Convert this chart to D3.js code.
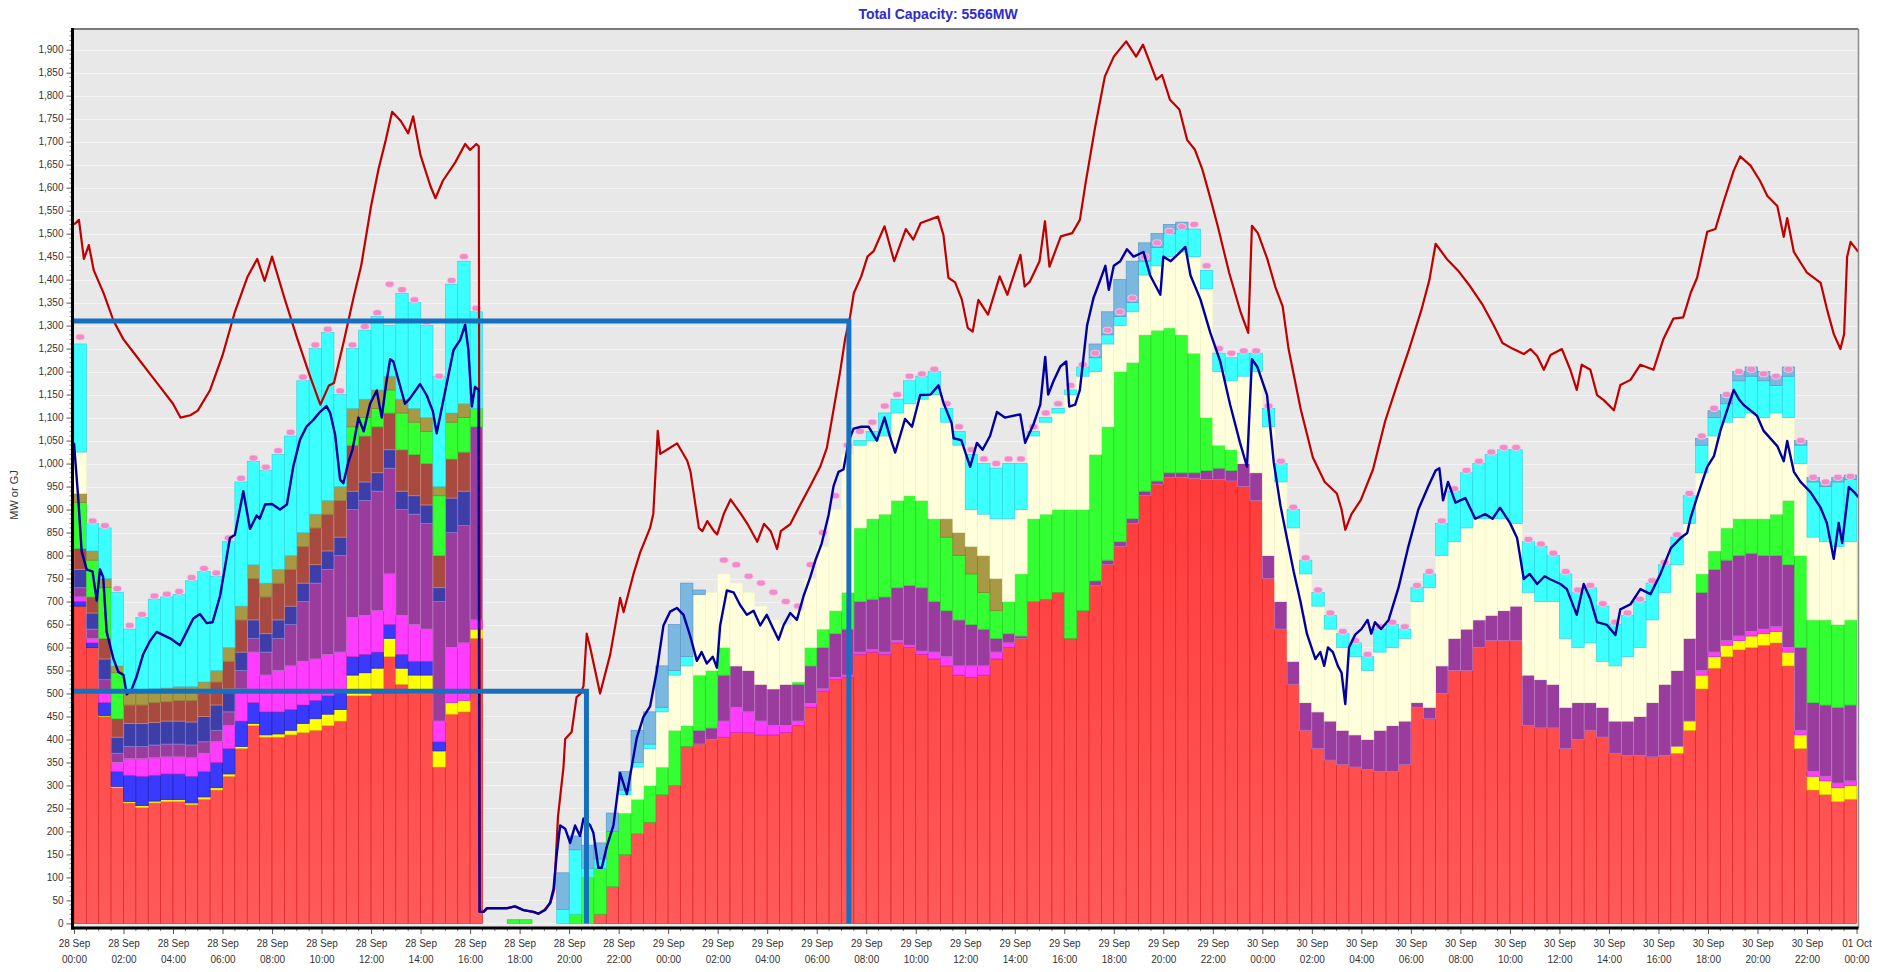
<!DOCTYPE html>
<html>
<head>
<meta charset="utf-8">
<script src="https://cdnjs.cloudflare.com/ajax/libs/d3/7.8.5/d3.min.js"></script>
<style>
  body { margin: 0; background: #fff; }
  text { font-family: Arial, "Liberation Sans", sans-serif; }
</style>
</head>
<body>
<svg id="chart" width="1888" height="972"></svg>
<script>
// half-hour bins from 28 Sep 00:00 to 01 Oct 00:00 (144 bins)
const binHours = 0.5;

const red = [690,600,450,295,262,252,262,265,265,258,270,290,320,380,430,405,405,410,415,420,430,440,495,495,510,580,520,500,500,340,455,460,620,
  0,0,0,0,0,0,0,0,0,
  20,80,150,195,220,280,300,385,390,400,405,415,415,410,410,415,
  430,470,505,530,535,585,590,585,610,600,585,575,560,540,535,540,575,600,620,700,705,720,620,680,735,780,820,870,930,955,970,970,968,965,965,962,950,920,750,640,520,420,380,355,345,340,335,330,330,345,470,445,500,550,550,600,615,615,615,430,425,425,380,400,420,405,370,365,365,362,365,370,420,510,555,580,595,600,605,610,560,380,290,280,265,270];

const yellow = [0,0,2,3,3,4,4,4,4,4,5,5,5,5,5,5,7,10,20,25,25,25,45,50,45,40,35,40,40,35,25,25,20,
  0,0,0,0,0,0,0,0,0,0,0,0,0,0,0,0,0,0,0,0,0,0,0,0,0,0,0,0,0,0,0,0,0,0,0,0,0,0,0,0,0,0,0,0,0,0,0,0,
  0,0,0,0,0,0,0,0,0,0,0,0,0,0,0,0,0,0,0,0,0,0,0,0,0,0,0,0,0,0,0,0,0,0,0,0,0,0,0,0,0,0,0,0,0,0,0,0,
  15,20,30,25,25,20,25,25,25,30,30,30,30,30,30];

const blue = [10,10,28,32,57,64,56,56,56,58,55,55,55,55,45,50,48,45,40,40,40,40,40,40,35,30,30,30,30,20,0,0,0,
  0,0,0,0,0,0,0,0,0,0,0,0,0,0,0,0,0,0,0,0,0,0,0,0,0,0,0,0,0,0,0,0,0,0,0,0,0,0,0,0,0,0,0,0,0,0,0,
  0,0,0,0,0,0,0,0,0,0,0,0,0,0,0,0,0,0,0,0,0,0,0,0,0,0,0,0,0,0,0,0,0,0,0,0,0,0,0,0,0,0,0,0,0,0,
  0,0,0,0,0,0,0,0,0,0,0,0,0,0,0,0,0,0,0];

const magenta = [10,10,20,20,36,38,38,37,37,40,40,45,50,70,110,80,90,95,95,90,90,85,85,85,90,110,85,80,70,45,120,125,20,
  0,0,0,0,0,0,0,0,0,0,0,0,0,0,0,0,0,0,0,
  35,55,45,30,20,15,10,8,5,5,5,5,5,5,5,5,7,15,20,20,25,20,15,10,
  0,0,0,0,0,0,0,0,0,0,0,0,0,0,0,0,0,0,0,0,0,0,0,0,0,0,0,0,0,0,0,0,0,0,0,0,0,0,0,0,0,0,0,0,0,0,0,0,0,0,0,0,0,0,0,
  10,10,10,10,10,10,10,10,10,10,10,10,10];

const purple = [20,20,30,20,27,27,28,28,28,28,25,25,30,40,30,50,70,90,130,165,185,210,235,250,260,230,230,240,230,260,250,255,420,
  0,0,0,0,0,0,0,0,0,0,0,0,0,0,0,0,0,
  30,25,100,90,90,80,80,90,80,82,90,95,100,110,110,120,115,130,138,110,100,100,90,80,30,20,5,0,0,0,0,0,10,10,10,10,10,7,10,10,12,20,25,23,50,60,50,60,50,60,80,85,75,70,65,90,100,95,10,25,60,70,90,60,55,65,75,110,105,95,90,80,60,65,70,75,85,118,155,165,180,170,180,175,175,170,160,155,180,180,150,155,165,165];

const navy = [40,35,45,35,50,50,49,50,50,50,55,55,50,40,40,40,40,40,40,40,40,40,40,40,40,40,40,40,40,30,75,75,0,
  0,0,0,0,0,0,0,0,0,0,0,0,0,0,0,0,0,0,0,0,0,0,0,0,0,0,0,0,0,0,0,0,0,0,0,0,0,0,0,0,0,0,0,0,0,0,0,
  0,0,0,0,0,0,0,0,0,0,0,0,0,0,0,0,0,0,0,0,0,0,0,0,0,0,0,0,0,0,0,0,0,0,0,0,0,0,0,0,0,0,0,0,0,0,
  0,0,0,0,0,0,0,0,0,0,0,0,0,0,0,0,0,0,0];

const brown = [45,35,45,40,40,40,43,42,45,47,50,50,60,70,90,80,80,80,80,80,80,80,100,100,100,80,90,90,90,70,85,85,0,
  0,0,0,0,0,0,0,0,0,0,0,0,0,0,0,0,0,0,0,0,0,0,0,0,0,0,0,0,0,0,0,0,0,0,0,0,0,0,0,0,0,0,0,0,0,0,0,
  0,0,0,0,0,0,0,0,0,0,0,0,0,0,0,0,0,0,0,0,0,0,0,0,0,0,0,0,0,0,0,0,0,0,0,0,0,0,0,0,0,0,0,0,0,0,
  0,0,0,0,0,0,0,0,0,0,0,0,0,0,0,0,0,0,0];

const green = [100,80,110,100,0,0,0,0,0,0,0,0,0,0,0,0,0,0,0,0,0,0,40,40,40,50,80,70,70,130,80,75,40,
  0,0,8,8,0,0,0,20,100,100,120,90,75,80,60,120,45,120,125,60,0,0,0,0,0,5,40,40,50,80,160,175,180,190,195,190,180,160,140,110,80,60,70,135,180,185,180,280,220,275,290,370,340,340,328,315,300,260,115,50,45,
  0,0,0,0,0,0,0,0,0,0,0,0,0,0,0,0,0,0,0,0,0,0,0,0,0,0,0,0,0,0,0,0,0,0,0,0,0,
  40,40,70,80,75,80,90,140,200,180,185,180,185];

const olive = [20,20,20,15,25,30,30,30,30,30,25,25,30,30,30,30,30,30,30,30,30,30,40,40,40,30,30,30,30,20,20,30,0,
  0,0,0,0,0,0,0,0,0,0,0,0,0,0,0,0,0,0,0,0,0,0,0,0,0,0,0,0,0,0,0,0,0,0,0,0,0,
  40,50,60,80,70,
  0,0,0,0,0,0,0,0,0,0,0,0,0,0,0,0,0,0,0,0,0,0,0,0,0,0,0,0,0,0,0,0,0,0,0,
  0,0,0,0,0,0,0,0,0,0,0,0,0,0,0,0,0,0,0,0,0,0,0,0,0,0,0,0,0,0,0,0,0,0];

const cream = [90,
  0,0,0,0,0,0,0,0,0,0,0,0,0,0,0,0,0,0,0,0,0,0,0,0,0,0,0,0,0,0,0,0,0,0,0,0,0,0,0,0,0,0,0,
  40,70,80,120,120,130,175,170,160,180,170,170,150,130,155,150,180,220,300,180,170,170,190,200,220,270,210,190,80,90,130,180,140,180,200,210,250,290,180,180,100,110,130,140,155,180,210,280,160,150,190,220,280,260,290,280,230,200,180,170,150,170,170,180,220,260,240,210,220,220,210,200,180,180,170,180,150,120,130,100,120,140,150,180,200,230,250,220,250,230,220,230,220,220,180,200,180,170,170,170];

const cyan = [235,60,110,160,140,160,195,198,200,230,240,205,230,270,225,245,250,260,330,360,365,200,130,150,160,110,230,230,200,240,280,310,210,
  0,0,0,0,0,0,30,140,20,20,0,10,10,10,10,10,20,
  0,0,0,0,0,0,0,0,0,0,0,0,0,
  10,20,50,30,50,50,50,30,30,120,110,110,120,100,10,10,10,10,20,30,20,20,20,30,40,50,50,60,40,40,50,50,40,40,40,40,30,30,30,30,30,30,50,50,20,30,30,70,110,120,120,140,150,160,110,120,100,140,120,120,120,90,90,100,80,60,60,60,60,40,40,80,80,80,60,90,40,120,120,140,135];

const steel = [0,0,0,0,0,0,0,0,0,0,0,0,0,0,0,0,0,0,0,0,0,0,0,0,0,0,0,0,0,0,0,0,0,0,0,0,0,0,0,
  80,30,50,35,40,40,70,70,90,100,160,10,
  0,0,0,0,0,0,0,0,0,0,0,0,0,0,0,0,0,0,0,0,0,0,0,0,0,0,0,0,0,0,0,
  30,50,80,90,40,30,20,15,
  0,0,0,0,0,0,0,0,0,0,0,0,0,0,0,0,0,0,0,0,0,0,0,0,0,0,0,0,0,0,0,0,0,0,0,0,0,0,0,0,0,
  15,15,20,20,20,20,20,20,10,10,10,10,10];

// pink markers sitting on top of the stack
const pinkMarks = [1275,875,865,728,648,672,712,716,722,752,772,762,838,968,1012,992,1028,1068,1188,1258,1292,1158,1258,1298,1328,1390,1378,1356,1308,1190,1398,1450,1338,
  null,null,null,null,null,null,null,null,null,null,null,null,null,null,null,null,null,null,null,
  790,780,755,740,720,700,690,780,850,930,1040,1070,1090,1125,1150,1190,1195,1205,1130,1080,1030,1010,1000,1010,1010,1080,1110,1130,1170,1215,1240,1290,1330,1360,1450,1480,1505,1515,1520,1430,1250,1240,1245,1245,1125,1005,905,795,725,675,635,615,585,645,655,645,735,765,875,945,985,1005,1025,1035,1035,835,825,805,765,725,735,695,655,675,705,745,785,845,935,1060,1120,1150,1200,1205,1195,1190,1205,1050,970,960,970,972];

// [hours from 28 Sep 00:00, value]
const redLine = [[0,1520],[0.2,1530],[0.4,1445],[0.6,1475],[0.8,1420],[1.2,1370],[1.6,1310],[2.0,1270],[2.5,1235],[3.0,1200],[3.5,1165],[4.0,1130],[4.3,1100],[4.7,1105],[5.0,1115],[5.5,1160],[6.0,1235],[6.5,1330],[7.0,1405],[7.4,1445],[7.7,1397],[8.0,1450],[8.5,1360],[9.0,1275],[9.5,1195],[9.95,1128],[10.3,1170],[10.5,1175],[10.9,1266],[11.3,1363],[11.6,1430],[12.0,1560],[12.3,1640],[12.6,1705],[12.85,1765],[13.2,1745],[13.5,1718],[13.7,1755],[14.0,1670],[14.4,1603],[14.6,1577],[14.9,1615],[15.4,1655],[15.8,1695],[16.0,1682],[16.25,1695],[16.35,1690],[16.4,25],[16.55,25],[16.7,33],[17.5,33],[17.8,37],[18.15,29],[18.55,25],[18.75,21],[19.0,29],[19.25,45],[19.4,75],[19.55,232],[19.77,339],[19.84,401],[20.1,416],[20.3,492],[20.45,499],[20.58,516],[20.71,630],[20.85,600],[21.25,500],[21.66,585],[22.06,708],[22.2,677],[22.6,760],[22.87,807],[23.27,860],[23.4,891],[23.58,1071],[23.68,1021],[23.95,1030],[24.36,1044],[24.77,1006],[24.9,983],[25.24,860],[25.38,853],[25.58,875],[25.85,853],[25.98,846],[26.25,891],[26.52,922],[26.93,891],[27.2,869],[27.6,830],[27.87,869],[28.14,853],[28.4,814],[28.55,853],[28.93,868],[29.33,910],[29.74,951],[30.14,993],[30.41,1034],[30.68,1117],[30.95,1201],[31.15,1272],[31.35,1320],[31.5,1371],[31.8,1407],[32.05,1450],[32.3,1462],[32.74,1516],[33.13,1440],[33.6,1510],[33.9,1487],[34.2,1523],[34.9,1537],[35.12,1497],[35.32,1404],[35.59,1394],[35.86,1357],[36.1,1295],[36.3,1287],[36.53,1356],[36.92,1324],[37.39,1407],[37.7,1367],[38.23,1454],[38.4,1385],[38.6,1395],[39.0,1440],[39.22,1527],[39.4,1428],[39.86,1494],[40.32,1501],[40.63,1530],[40.86,1610],[41.25,1733],[41.64,1842],[42.0,1885],[42.5,1918],[42.9,1885],[43.18,1911],[43.72,1835],[43.95,1845],[44.27,1791],[44.65,1770],[44.96,1704],[45.27,1683],[45.58,1639],[45.88,1581],[46.2,1516],[46.66,1415],[47.13,1328],[47.43,1284],[47.58,1517],[47.82,1501],[48.2,1445],[48.52,1385],[48.82,1342],[49.06,1249],[49.55,1118],[50.04,1013],[50.52,960],[51.01,935],[51.2,900],[51.35,856],[51.6,890],[51.98,921],[52.47,987],[52.96,1092],[53.44,1171],[53.93,1249],[54.42,1333],[54.75,1400],[55.0,1478],[55.45,1445],[55.9,1420],[56.4,1385],[56.9,1345],[57.35,1300],[57.7,1262],[58.1,1250],[58.56,1238],[58.83,1249],[59.1,1234],[59.37,1204],[59.64,1236],[60.1,1249],[60.44,1204],[60.7,1160],[60.9,1215],[61.25,1204],[61.52,1149],[61.79,1138],[62.2,1116],[62.46,1171],[62.87,1182],[63.27,1215],[63.8,1204],[64.2,1271],[64.6,1315],[65.0,1318],[65.3,1371],[65.56,1404],[65.97,1504],[66.3,1510],[66.64,1571],[67.04,1637],[67.3,1668],[67.72,1648],[68.1,1615],[68.4,1582],[68.8,1560],[69.06,1493],[69.2,1534],[69.47,1460],[70.0,1415],[70.55,1393],[70.8,1337],[71.08,1282],[71.35,1249],[71.5,1282],[71.62,1449],[71.76,1482],[72.08,1460]];

const navyLine = [[0.0,1045],[0.17,926],[0.31,809],[0.51,770],[0.75,765],[0.92,702],[1.05,770],[1.18,753],[1.32,634],[1.59,576],[1.79,547],[2.0,540],[2.13,498],[2.33,509],[2.53,537],[2.8,586],[3.07,614],[3.34,634],[3.88,620],[4.28,605],[4.55,634],[4.82,663],[5.09,673],[5.36,653],[5.6,655],[5.9,712],[6.3,838],[6.5,845],[6.84,940],[7.11,858],[7.38,887],[7.5,880],[7.72,911],[8.0,912],[8.32,900],[8.6,911],[8.86,994],[9.13,1052],[9.4,1081],[9.67,1095],[9.9,1110],[10.2,1125],[10.35,1110],[10.55,1062],[10.75,965],[10.88,957],[11.08,1003],[11.25,1030],[11.49,1100],[11.7,1070],[11.96,1130],[12.23,1159],[12.43,1100],[12.6,1170],[12.77,1227],[12.9,1222],[13.17,1169],[13.37,1130],[13.55,1140],[13.98,1173],[14.25,1148],[14.5,1113],[14.65,1066],[15.06,1175],[15.33,1247],[15.6,1269],[15.8,1302],[15.93,1247],[16.07,1124],[16.2,1167],[16.34,1160],[16.38,25],[16.54,25],[16.67,33],[17.48,33],[17.82,37],[18.15,29],[18.56,25],[18.76,21],[19.03,29],[19.23,45],[19.37,75],[19.5,151],[19.64,213],[19.84,206],[20.04,175],[20.24,213],[20.44,190],[20.58,228],[20.85,213],[20.98,197],[21.18,121],[21.32,121],[21.52,167],[21.79,213],[22.06,327],[22.33,281],[22.46,320],[22.73,403],[23.0,449],[23.27,472],[23.54,549],[23.81,648],[24.08,678],[24.35,686],[24.62,671],[24.89,625],[25.16,571],[25.35,590],[25.56,565],[25.8,580],[25.97,556],[26.1,648],[26.37,724],[26.64,720],[26.9,693],[27.18,671],[27.45,680],[27.72,648],[27.98,671],[28.25,640],[28.46,617],[28.66,648],[28.93,675],[29.2,660],[29.47,712],[29.74,753],[29.95,790],[30.2,826],[30.48,888],[30.68,951],[30.88,982],[31.08,987],[31.3,1050],[31.49,1076],[31.8,1080],[32.1,1080],[32.43,1050],[32.74,1100],[32.95,1060],[33.17,1024],[33.57,1097],[33.85,1080],[34.18,1149],[34.6,1150],[34.92,1170],[35.12,1132],[35.45,1088],[35.53,1055],[35.84,1051],[36.2,993],[36.47,1045],[36.7,1030],[37.0,1060],[37.28,1112],[37.6,1100],[38.22,1107],[38.42,1045],[38.76,1086],[39.03,1128],[39.23,1232],[39.35,1150],[39.57,1180],[39.84,1211],[40.08,1222],[40.2,1124],[40.44,1128],[40.63,1160],[40.92,1300],[41.18,1360],[41.45,1399],[41.66,1430],[41.8,1378],[42.0,1430],[42.26,1440],[42.53,1466],[42.8,1450],[43.2,1460],[43.47,1409],[43.88,1367],[44.0,1450],[44.3,1440],[44.65,1458],[44.89,1471],[45.1,1409],[45.5,1357],[45.9,1284],[46.3,1222],[46.7,1128],[47.1,1045],[47.38,993],[47.58,1227],[47.8,1210],[48.19,1149],[48.46,1003],[48.73,909],[49.0,836],[49.27,764],[49.54,700],[49.8,630],[50.14,575],[50.34,590],[50.5,560],[50.65,600],[50.85,590],[51.05,560],[51.2,545],[51.35,477],[51.5,600],[51.75,628],[52.0,640],[52.25,660],[52.4,630],[52.55,655],[52.8,640],[53.1,660],[53.5,730],[53.9,820],[54.3,900],[54.7,950],[55.0,985],[55.15,990],[55.3,920],[55.5,960],[55.8,915],[56.2,925],[56.6,880],[57.0,890],[57.3,880],[57.6,904],[58.0,871],[58.29,838],[58.56,749],[58.8,760],[59.1,738],[59.4,755],[59.6,749],[60.04,738],[60.3,727],[60.7,671],[60.98,738],[61.25,705],[61.52,655],[61.92,649],[62.26,627],[62.46,683],[62.87,694],[63.27,727],[63.68,716],[64.08,760],[64.5,816],[64.89,838],[65.16,849],[65.3,882],[65.56,927],[65.97,993],[66.24,1016],[66.5,1071],[67.04,1160],[67.25,1140],[67.45,1127],[67.98,1104],[68.25,1071],[68.8,1038],[69.06,1005],[69.2,1049],[69.47,982],[69.74,960],[70.14,938],[70.55,904],[70.8,871],[71.08,793],[71.28,871],[71.42,827],[71.69,949],[71.9,938],[72.08,927]];

// hand-drawn marker lines: level (MW) and hour where they drop to zero
const markLevels = [1310, 505];
const markUntil = [31.3, 20.7];

const yTickValues = d3.range(0, 1901, 50);
const xTickEveryHours = 2;
const titleText = 'Total Capacity: 5566MW';
const yAxisLabel = 'MW or GJ';

const layers = [
  {key: 'red', values: red, fill: 'url(#redGrad)', stroke: '#df2424'},
  {key: 'yellow', values: yellow, fill: '#ffff00', stroke: '#d6cc00'},
  {key: 'blue', values: blue, fill: '#3a3aff', stroke: '#2222b8'},
  {key: 'magenta', values: magenta, fill: '#ff3cff', stroke: '#c828c8'},
  {key: 'purple', values: purple, fill: '#9a3c9e', stroke: '#bb7cc2'},
  {key: 'navy', values: navy, fill: '#3e3ea8', stroke: '#7c7cd0'},
  {key: 'brown', values: brown, fill: '#a84a40', stroke: '#cc8476'},
  {key: 'green', values: green, fill: '#33ff33', stroke: '#26d426'},
  {key: 'olive', values: olive, fill: '#a89a44', stroke: '#8a7c30'},
  {key: 'cream', values: cream, fill: '#ffffdc', stroke: '#f2f2c8'},
  {key: 'cyan', values: cyan, fill: '#3cffff', stroke: '#2ed6e2'},
  {key: 'steel', values: steel, fill: '#7ab8e0', stroke: '#5a98c8'}
];

const svg = d3.select('#chart');
const plot = {left: 72.5, right: 1858.5, top: 29, bottom: 928};

const t0 = Date.UTC(2021, 8, 28);
const at = h => new Date(t0 + h * 3600e3);

const x = d3.scaleUtc()
  .domain([at(-0.06), at(72.08)])
  .range([plot.left, plot.right]);

const y = d3.scaleLinear()
  .domain([-10, 1945])
  .range([plot.bottom, plot.top]);

const defs = svg.append('defs');
const grad = defs.append('linearGradient')
  .attr('id', 'redGrad')
  .attr('gradientUnits', 'userSpaceOnUse')
  .attr('x1', 0).attr('x2', 0)
  .attr('y1', plot.top).attr('y2', plot.bottom);
grad.append('stop').attr('offset', '0%').attr('stop-color', '#ff1c1c');
grad.append('stop').attr('offset', '100%').attr('stop-color', '#ff5a5a');

defs.append('clipPath').attr('id', 'plotClip')
  .append('rect')
  .attr('x', plot.left).attr('y', plot.top)
  .attr('width', plot.right - plot.left).attr('height', plot.bottom - plot.top);

// plot background
svg.append('rect')
  .attr('x', plot.left).attr('y', plot.top)
  .attr('width', plot.right - plot.left).attr('height', plot.bottom - plot.top)
  .attr('fill', '#e8e8e8');

svg.append('g')
  .selectAll('line')
  .data(yTickValues)
  .join('line')
  .attr('x1', plot.left).attr('x2', plot.right)
  .attr('y1', d => Math.round(y(d)) + 0.5).attr('y2', d => Math.round(y(d)) + 0.5)
  .attr('stroke', '#f3f3f3')
  .attr('stroke-width', 1);

// stacked bars
const rows = red.map((_, i) => {
  const r = {i};
  layers.forEach(l => { r[l.key] = l.values[i] || 0; });
  return r;
});
const stacked = d3.stack().keys(layers.map(l => l.key))(rows);
const styleOf = Object.fromEntries(layers.map(l => [l.key, l]));

const bars = svg.append('g').attr('clip-path', 'url(#plotClip)');
bars.selectAll('g')
  .data(stacked)
  .join('g')
  .attr('fill', d => styleOf[d.key].fill)
  .attr('stroke', d => styleOf[d.key].stroke)
  .attr('stroke-width', 0.7)
  .selectAll('rect')
  .data(d => d.filter(p => p[1] - p[0] > 0))
  .join('rect')
  .attr('x', p => x(at(p.data.i * binHours)))
  .attr('width', p => x(at((p.data.i + 1) * binHours)) - x(at(p.data.i * binHours)))
  .attr('y', p => y(p[1]))
  .attr('height', p => y(p[0]) - y(p[1]));

// pink markers
bars.append('g')
  .selectAll('rect')
  .data(pinkMarks.map((v, i) => ({i, v})).filter(d => d.v != null))
  .join('rect')
  .attr('x', d => x(at((d.i + 0.5) * binHours)) - 4.5)
  .attr('y', d => y(d.v) - 3)
  .attr('width', 9)
  .attr('height', 6)
  .attr('rx', 3)
  .attr('fill', '#f08cc8')
  .attr('stroke', '#ffd0ea')
  .attr('stroke-width', 0.8);

const line = d3.line()
  .x(d => x(at(d[0])))
  .y(d => y(d[1]));

const lines = svg.append('g').attr('clip-path', 'url(#plotClip)');
lines.append('path')
  .datum(redLine)
  .attr('d', line)
  .attr('fill', 'none')
  .attr('stroke', '#c00000')
  .attr('stroke-width', 2.2)
  .attr('stroke-linejoin', 'round');

lines.append('path')
  .datum(navyLine)
  .attr('d', line)
  .attr('fill', 'none')
  .attr('stroke', '#0000a0')
  .attr('stroke-width', 2.4)
  .attr('stroke-linejoin', 'round');

// thick marker lines
lines.selectAll('path.mark')
  .data(markLevels.map((v, i) => ({v, until: markUntil[i]})))
  .join('path')
  .attr('class', 'mark')
  .attr('d', d => `M${plot.left},${y(d.v)}H${x(at(d.until))}V${y(0)}`)
  .attr('fill', 'none')
  .attr('stroke', '#1670c0')
  .attr('stroke-width', 5);

// y axis
const gy = svg.append('g')
  .attr('transform', `translate(${plot.left},0)`)
  .attr('font-family', 'Arial, "Liberation Sans", sans-serif')
  .attr('font-size', 12)
  .call(d3.axisLeft(y).tickValues(yTickValues).tickSize(6).tickPadding(3).tickFormat(d3.format(',')));
gy.select('.domain').remove();
gy.selectAll('.tick line').attr('stroke', '#555');
gy.selectAll('.tick text').attr('fill', '#333');

gy.append('g')
  .selectAll('line')
  .data(d3.range(0, 1941, 10).filter(v => v % 50 !== 0))
  .join('line')
  .attr('x1', -3).attr('x2', 0)
  .attr('y1', d => y(d)).attr('y2', d => y(d))
  .attr('stroke', '#888');

// x axis
const fmtDay = d3.utcFormat('%d %b');
const fmtTime = d3.utcFormat('%H:%M');
const gx = svg.append('g')
  .attr('transform', `translate(0,${plot.bottom})`)
  .attr('font-family', 'Arial, "Liberation Sans", sans-serif')
  .attr('font-size', 12.5)
  .call(d3.axisBottom(x).ticks(d3.utcHour.every(xTickEveryHours)).tickSize(6).tickFormat(() => ''));
gx.select('.domain').remove();
gx.selectAll('.tick line').attr('stroke', '#555');
gx.selectAll('.tick text').remove();
const lbl = gx.selectAll('.tick').append('text')
  .attr('fill', '#333')
  .attr('text-anchor', 'middle');
lbl.append('tspan').attr('x', 0).attr('y', 19).text(d => fmtDay(d));
lbl.append('tspan').attr('x', 0).attr('y', 35).text(d => fmtTime(d));

gx.append('g')
  .selectAll('line')
  .data(x.ticks(d3.utcMinute.every(30)).filter(d => d.getUTCMinutes() !== 0 || d.getUTCHours() % 2 !== 0))
  .join('line')
  .attr('x1', d => x(d)).attr('x2', d => x(d))
  .attr('y1', 0).attr('y2', 3)
  .attr('stroke', '#777');

// frame
svg.append('line')
  .attr('x1', plot.left).attr('x2', plot.right)
  .attr('y1', plot.top).attr('y2', plot.top)
  .attr('stroke', '#7a7a7a').attr('stroke-width', 2);
svg.append('line')
  .attr('x1', plot.right).attr('x2', plot.right)
  .attr('y1', plot.top).attr('y2', plot.bottom)
  .attr('stroke', '#8c8c8c').attr('stroke-width', 1.5);
svg.append('line')
  .attr('x1', plot.left).attr('x2', plot.left)
  .attr('y1', plot.top - 1).attr('y2', plot.bottom + 1.5)
  .attr('stroke', '#000').attr('stroke-width', 3);
svg.append('line')
  .attr('x1', plot.left - 1.5).attr('x2', plot.right)
  .attr('y1', plot.bottom).attr('y2', plot.bottom)
  .attr('stroke', '#000').attr('stroke-width', 3);

// titles
svg.append('text')
  .attr('x', 938).attr('y', 19)
  .attr('text-anchor', 'middle')
  .attr('font-size', 14)
  .attr('font-weight', 'bold')
  .attr('fill', '#2b2bd0')
  .text(titleText);

svg.append('text')
  .attr('transform', 'translate(18,495) rotate(-90)')
  .attr('text-anchor', 'middle')
  .attr('font-size', 11)
  .attr('fill', '#333')
  .text(yAxisLabel);
</script>
</body>
</html>
